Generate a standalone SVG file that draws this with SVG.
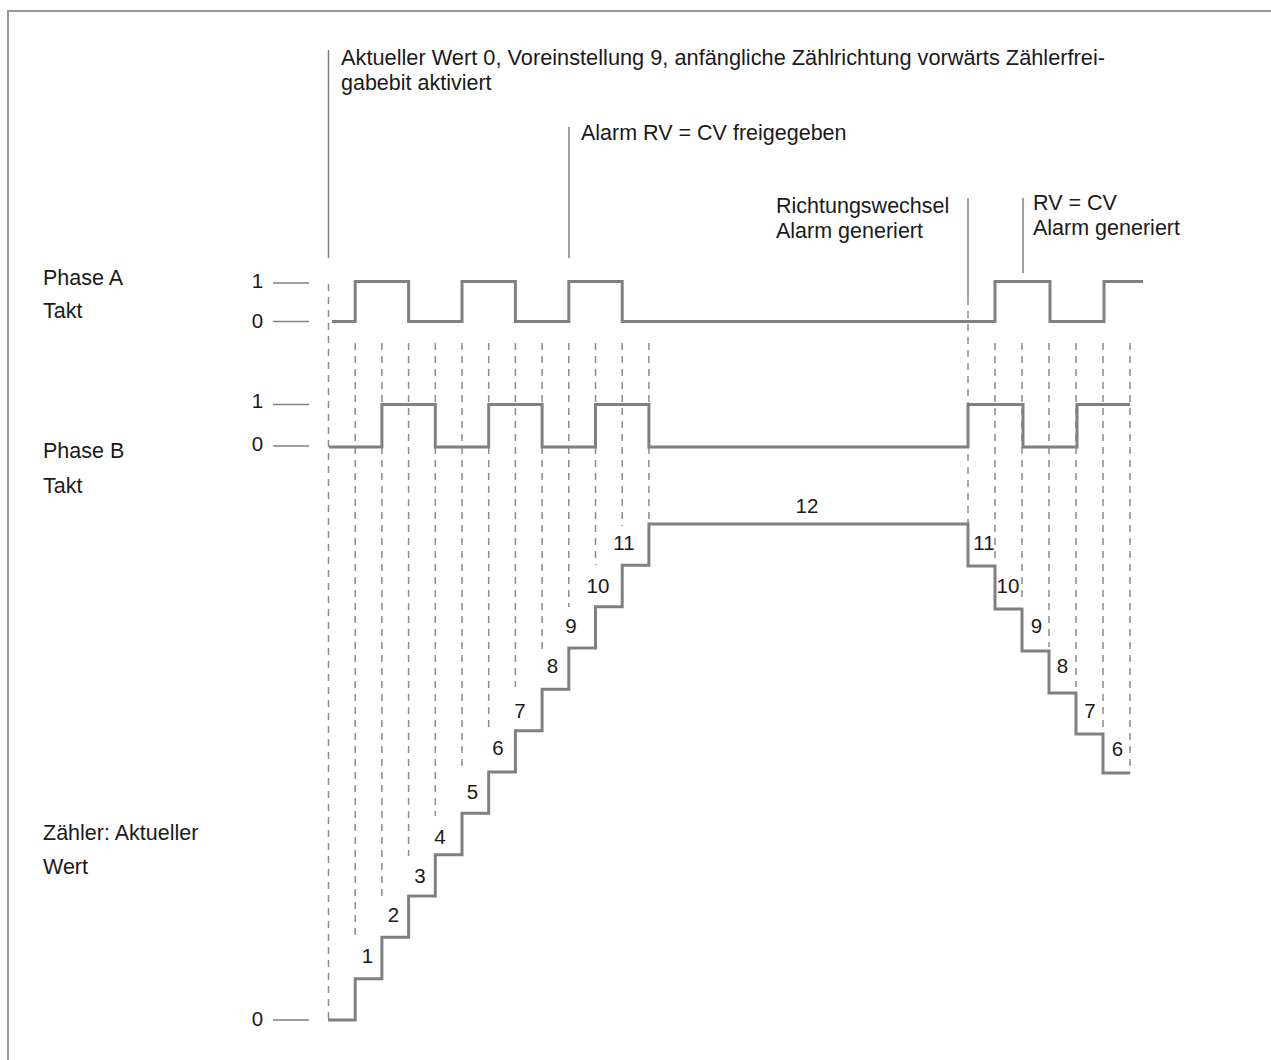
<svg xmlns="http://www.w3.org/2000/svg" width="1271" height="1060" viewBox="0 0 1271 1060">
<style>
text{font-family:"Liberation Sans",Arial,sans-serif;font-size:21.5px;fill:#1a1a1a}
.n{font-size:20.5px;text-anchor:middle}
.wave{fill:none;stroke:#808080;stroke-width:3;stroke-linejoin:miter}
.dash{fill:none;stroke:#8c8c8c;stroke-width:1.5;stroke-dasharray:7 6}
.ann{fill:none;stroke:#808080;stroke-width:1.5}
.tick{fill:none;stroke:#808080;stroke-width:1.5}
</style>
<rect width="1271" height="1060" fill="#fff"/>
<path d="M8,1060 V11 H1271" fill="none" stroke="#999" stroke-width="2"/>

<g id="labels">
<text x="43" y="285">Phase A</text>
<text x="43" y="318">Takt</text>
<text x="43" y="458">Phase B</text>
<text x="43" y="493">Takt</text>
<text x="43" y="840">Zähler: Aktueller</text>
<text x="43" y="874">Wert</text>
<text class="n" x="257.5" y="288">1</text>
<text class="n" x="257.5" y="328">0</text>
<text class="n" x="257.5" y="408">1</text>
<text class="n" x="257.5" y="451">0</text>
<text class="n" x="257.5" y="1026">0</text>
</g>

<g id="annotations">
<text x="341" y="65" textLength="764" lengthAdjust="spacingAndGlyphs">Aktueller Wert 0, Voreinstellung 9, anfängliche Zählrichtung vorwärts Zählerfrei-</text>
<text x="341" y="90">gabebit aktiviert</text>
<text x="581" y="140">Alarm RV = CV freigegeben</text>
<text x="776" y="213">Richtungswechsel</text>
<text x="776" y="238">Alarm generiert</text>
<text x="1033" y="210">RV = CV</text>
<text x="1033" y="235">Alarm generiert</text>
</g>

<g id="connectors">
<line class="ann" x1="328.5" y1="50" x2="328.5" y2="258"/>
<line class="ann" x1="569" y1="127" x2="569" y2="258"/>
<line class="ann" x1="968" y1="198" x2="968" y2="298"/>
<line class="ann" x1="1023" y1="198" x2="1023" y2="273"/>
<g id="ticks">
<line class="tick" x1="273" y1="283" x2="309" y2="283"/>
<line class="tick" x1="273" y1="321.5" x2="309" y2="321.5"/>
<line class="tick" x1="273" y1="404.5" x2="309" y2="404.5"/>
<line class="tick" x1="273" y1="446" x2="309" y2="446"/>
<line class="tick" x1="273" y1="1020" x2="309" y2="1020"/>
</g>
<g id="dashes">
<line class="dash" x1="328.5" y1="284" x2="328.5" y2="1020"/>
<line class="dash" x1="355.2" y1="343" x2="355.2" y2="940"/>
<line class="dash" x1="381.9" y1="343" x2="381.9" y2="896"/>
<line class="dash" x1="408.6" y1="343" x2="408.6" y2="856"/>
<line class="dash" x1="435.3" y1="343" x2="435.3" y2="816"/>
<line class="dash" x1="462" y1="343" x2="462" y2="770"/>
<line class="dash" x1="488.7" y1="343" x2="488.7" y2="733"/>
<line class="dash" x1="515.4" y1="343" x2="515.4" y2="687"/>
<line class="dash" x1="542.1" y1="343" x2="542.1" y2="649"/>
<line class="dash" x1="568.8" y1="343" x2="568.8" y2="607"/>
<line class="dash" x1="595.5" y1="343" x2="595.5" y2="565"/>
<line class="dash" x1="622.2" y1="343" x2="622.2" y2="526"/>
<line class="dash" x1="648.9" y1="343" x2="648.9" y2="524"/>
<line class="dash" x1="968" y1="298" x2="968" y2="524"/>
<line class="dash" x1="995" y1="343" x2="995" y2="560"/>
<line class="dash" x1="1022" y1="343" x2="1022" y2="600"/>
<line class="dash" x1="1049" y1="343" x2="1049" y2="647"/>
<line class="dash" x1="1076" y1="343" x2="1076" y2="687"/>
<line class="dash" x1="1103" y1="343" x2="1103" y2="733"/>
<line class="dash" x1="1130" y1="343" x2="1130" y2="773"/>
</g>
</g>

<g id="phaseA">
<path class="wave" d="M332,321.5 H355.2 V281.5 H408.6 V321.5 H462 V281.5 H515.4 V321.5 H568.8 V281.5 H622.2 V321.5 H995 V281.5 H1050 V321.5 H1104 V281.5 H1143"/>
</g>
<g id="phaseB">
<path class="wave" d="M329,447 H381.9 V404.5 H435.3 V447 H488.7 V404.5 H542.1 V447 H595.5 V404.5 H648.9 V447 H968 V404.5 H1023 V447 H1077 V404.5 H1130"/>
</g>
<g id="counter">
<path class="wave" d="M328,1020 H355.2 V978.7 H381.9 V937.3 H408.6 V896 H435.3 V854.7 H462 V813.3 H488.7 V772 H515.4 V730.7 H542.1 V689.3 H568.8 V648 H595.5 V606.7 H622.2 V565.3 H648.9 V524 H968 V566 H995 V609 H1022 V651 H1049 V693 H1076 V734 H1103 V773 H1130"/>
<text class="n" x="367.5" y="963">1</text>
<text class="n" x="393.5" y="922">2</text>
<text class="n" x="420" y="883">3</text>
<text class="n" x="440" y="844">4</text>
<text class="n" x="472.5" y="799">5</text>
<text class="n" x="498" y="755">6</text>
<text class="n" x="520" y="718">7</text>
<text class="n" x="552.5" y="673">8</text>
<text class="n" x="571" y="633">9</text>
<text class="n" x="598" y="593">10</text>
<text class="n" x="624" y="550">11</text>
<text class="n" x="807" y="513">12</text>
<text class="n" x="984" y="550">11</text>
<text class="n" x="1008" y="593">10</text>
<text class="n" x="1036.5" y="633">9</text>
<text class="n" x="1062.5" y="673">8</text>
<text class="n" x="1090" y="718">7</text>
<text class="n" x="1117.5" y="756">6</text>
</g>
</svg>
